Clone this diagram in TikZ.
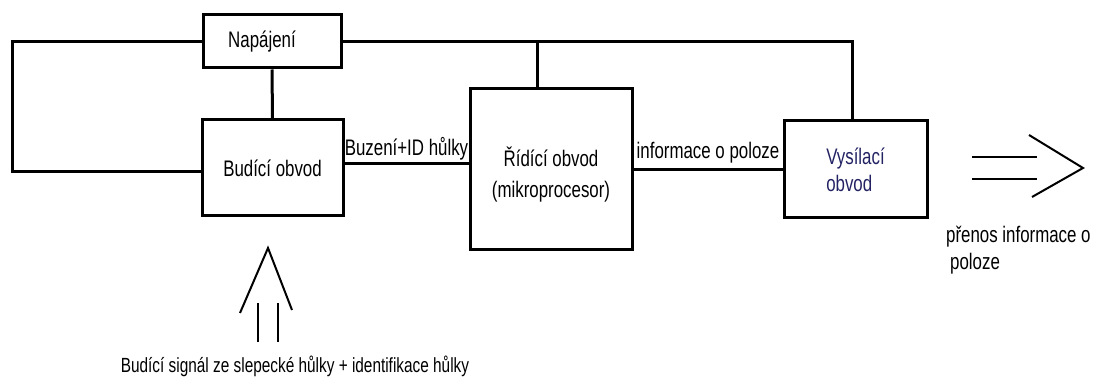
\documentclass[tikz,border=0pt]{standalone}
\usepackage{fontspec}
\setmainfont{Liberation Sans}[FakeStretch=0.75]
\definecolor{modratext}{RGB}{35,35,100}

\begin{document}
\begin{tikzpicture}[x=1pt,y=-1pt,  % 1pt 就是一个像素, y 轴向下
  blok/.style={draw,line width=3pt,inner sep=0pt,font=\fontsize{22.5}{27}\selectfont},
  spoj/.style={line width=3pt},
  popis/.style={font=\fontsize{22.5}{27}\selectfont,inner sep=2pt},
  sipka/.style={line width=2.5pt},
  hrot/.style={line width=2pt,line join=miter}]

  % 固定画布大小
  \useasboundingbox (0,0) rectangle (1097,379);

  % 四个方框,用坐标直接放置
  \node[blok,minimum width=138,minimum height=53] (napajeni) at (272,41.5) {Napájení\hspace*{20pt}};
  \node[blok,minimum width=141,minimum height=96] (budici) at (272.5,168) {Budící obvod};
  \node[blok,minimum width=162,minimum height=161,align=center] (ridici) at (551,169.5)
    {\rule{0pt}{30pt}Řídící obvod\\[4pt](mikroprocesor)};
  \node[blok,minimum width=143,minimum height=97,align=left,text=modratext] (vysilaci) at (855.5,169.5)
    {Vysílací\\obvod};

  % 左边的回路, -| 先横后竖
  \coordinate (levy) at (12,100);
  \draw[spoj] (napajeni.west) -| (levy) |- ([yshift=-4pt]budici.west);

  % 上面的电源线,一直到右边的方框
  \draw[spoj] (napajeni.east) -| ([xshift=-3.5pt]vysilaci.north);
  \draw[spoj] ([xshift=-14pt]ridici.north) -- ([xshift=-14pt]ridici.north |- napajeni.east);
  \draw[spoj] (napajeni.south) -- (budici.north);

  % 方框之间的连线,带文字
  \draw[spoj] ([yshift=4pt]budici.east) -- ([yshift=4pt]budici.east -| ridici.west)
    node[popis,midway,above=0pt] (buzeni) {Buzení+ID hůlky};
  \draw[spoj] (ridici.east) -- (vysilaci.west)
    node[popis,midway,above=3pt] (informace) {informace o poloze};

  % 右边的箭头: 两条线加一个尖
  \draw[sipka] (972,157) -- (1037,157);
  \draw[sipka] (972,179) -- (1037,179);
  \draw[hrot] (1029,135) -- (1083,168) -- (1032,197);
  \node[popis,anchor=north west,align=left] (prenos) at (944,224)
    {přenos informace o\\\hspace*{4pt}poloze};

  % 下面向上的箭头
  \draw[sipka] (258,303) -- (258,342);
  \draw[sipka] (278,303) -- (278,342);
  \draw[hrot] (240,313) -- (268,248) -- (292,310);
  \node[font=\fontsize{20.5}{24}\selectfont] (signal) at (295,366)
    {Budící signál ze slepecké hůlky + identifikace hůlky};

\end{tikzpicture}
\end{document}
